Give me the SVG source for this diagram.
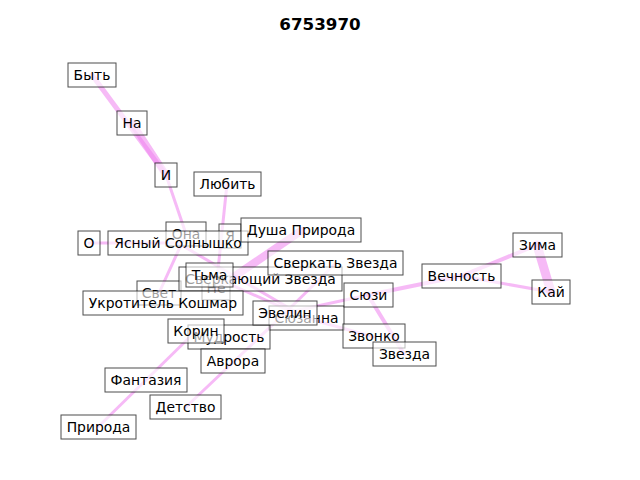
<svg xmlns="http://www.w3.org/2000/svg" width="640" height="480" viewBox="0 0 640 480">
<style>
.e{stroke:#ee82ee;stroke-opacity:0.55;stroke-linecap:round;fill:none}
.n rect{fill:#ffffff;fill-opacity:0.62;stroke:#000000;stroke-opacity:0.7;stroke-width:1}
.n text{font-family:"DejaVu Sans",sans-serif;font-size:13.9px;fill:#000000;text-anchor:middle}
.t{font-family:"DejaVu Sans",sans-serif;font-size:16.7px;font-weight:bold;text-anchor:middle;fill:#000000}
</style>
<rect width="640" height="480" fill="#ffffff"/>
<text class="t" x="320" y="30">6753970</text>
<g id="edges">
<line class="e" x1="92" y1="75" x2="166" y2="175" stroke-width="5"/>
<line class="e" x1="132" y1="123" x2="166" y2="175" stroke-width="7"/>
<line class="e" x1="166" y1="175" x2="186" y2="234" stroke-width="3"/>
<line class="e" x1="186" y1="234" x2="159" y2="293" stroke-width="3"/>
<line class="e" x1="89" y1="243" x2="178" y2="243" stroke-width="3"/>
<line class="e" x1="227" y1="184" x2="216" y2="289" stroke-width="3"/>
<line class="e" x1="301" y1="231" x2="216" y2="289" stroke-width="8" stroke-opacity="0.4"/>
<line class="e" x1="178" y1="243" x2="306" y2="318" stroke-width="3"/>
<line class="e" x1="209" y1="275" x2="306" y2="318" stroke-width="3"/>
<line class="e" x1="335" y1="264" x2="285" y2="313" stroke-width="3"/>
<line class="e" x1="368" y1="295" x2="285" y2="313" stroke-width="3"/>
<line class="e" x1="461" y1="276" x2="368" y2="295" stroke-width="4"/>
<line class="e" x1="461" y1="276" x2="537" y2="245" stroke-width="4" stroke-opacity="0.4"/>
<line class="e" x1="461" y1="276" x2="551" y2="292" stroke-width="3"/>
<line class="e" x1="537" y1="245" x2="551" y2="292" stroke-width="9"/>
<line class="e" x1="368" y1="295" x2="404" y2="354" stroke-width="4"/>
<line class="e" x1="306" y1="318" x2="374" y2="337" stroke-width="3"/>
<line class="e" x1="98" y1="427" x2="196" y2="331" stroke-width="3"/>
<line class="e" x1="186" y1="407" x2="285" y2="313" stroke-width="3"/>
</g>
<g id="n-ona" class="n"><rect x="166" y="222" width="40" height="24"/><text x="186" y="239">Она</text></g>
<g id="n-ya" class="n"><rect x="219" y="224" width="22" height="24"/><text x="230" y="241">Я</text></g>
<g id="n-svet" class="n"><rect x="137" y="281" width="44" height="24"/><text x="159" y="298">Свет</text></g>
<g id="n-ne" class="n"><rect x="202" y="276" width="28" height="24"/><text x="216" y="293">Не</text></g>
<g id="n-sverkayushchiy" class="n"><rect x="179" y="267" width="163" height="24"/><text x="260.5" y="284">Сверкающий Звезда</text></g>
<g id="n-syuzanna" class="n"><rect x="269" y="306" width="75" height="24"/><text x="306.5" y="323">Сюзанна</text></g>
<g id="n-mudrost" class="n"><rect x="188" y="325" width="82" height="24"/><text x="229" y="342">Мудрость</text></g>
<g id="n-zvonko" class="n"><rect x="343" y="324" width="62" height="24"/><text x="374" y="341">Звонко</text></g>
<g id="n-byt" class="n"><rect x="68" y="63" width="48" height="24"/><text x="92" y="80">Быть</text></g>
<g id="n-na" class="n"><rect x="117" y="111" width="30" height="24"/><text x="132" y="128">На</text></g>
<g id="n-i" class="n"><rect x="155" y="163" width="22" height="24"/><text x="166" y="180">И</text></g>
<g id="n-lyubit" class="n"><rect x="194" y="172" width="67" height="24"/><text x="227.5" y="189">Любить</text></g>
<g id="n-o" class="n"><rect x="78" y="231" width="22" height="24"/><text x="89" y="248">О</text></g>
<g id="n-yasny" class="n"><rect x="108" y="231" width="140" height="24"/><text x="178" y="248">Ясный Солнышко</text></g>
<g id="n-dusha" class="n"><rect x="241" y="218" width="120" height="24"/><text x="301" y="235">Душа Природа</text></g>
<g id="n-sverkat" class="n"><rect x="268" y="251" width="135" height="24"/><text x="335.5" y="268">Сверкать Звезда</text></g>
<g id="n-tma" class="n"><rect x="186" y="263" width="47" height="24"/><text x="209.5" y="280">Тьма</text></g>
<g id="n-ukrotitel" class="n"><rect x="83" y="291" width="160" height="24"/><text x="163" y="308">Укротитель Кошмар</text></g>
<g id="n-evelin" class="n"><rect x="253" y="301" width="64" height="24"/><text x="285" y="318">Эвелин</text></g>
<g id="n-syuzi" class="n"><rect x="344" y="283" width="49" height="24"/><text x="368.5" y="300">Сюзи</text></g>
<g id="n-vechnost" class="n"><rect x="422" y="264" width="79" height="24"/><text x="461.5" y="281">Вечность</text></g>
<g id="n-zima" class="n"><rect x="513" y="233" width="49" height="24"/><text x="537.5" y="250">Зима</text></g>
<g id="n-kay" class="n"><rect x="532" y="280" width="38" height="24"/><text x="551" y="297">Кай</text></g>
<g id="n-zvezda" class="n"><rect x="373" y="342" width="63" height="24"/><text x="404.5" y="359">Звезда</text></g>
<g id="n-korin" class="n"><rect x="168" y="319" width="56" height="24"/><text x="196" y="336">Корин</text></g>
<g id="n-avrora" class="n"><rect x="201" y="349" width="64" height="24"/><text x="233" y="366">Аврора</text></g>
<g id="n-fantaziya" class="n"><rect x="105" y="368" width="82" height="24"/><text x="146" y="385">Фантазия</text></g>
<g id="n-detstvo" class="n"><rect x="150" y="395" width="71" height="24"/><text x="185.5" y="412">Детство</text></g>
<g id="n-priroda" class="n"><rect x="61" y="415" width="75" height="24"/><text x="98.5" y="432">Природа</text></g>
</svg>
